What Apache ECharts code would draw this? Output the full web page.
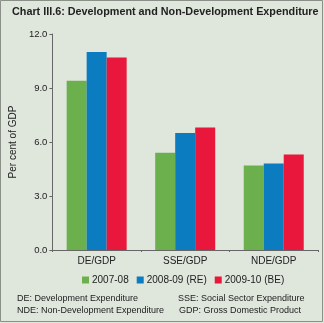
<!DOCTYPE html>
<html>
<head>
<meta charset="utf-8">
<script src="https://cdn.jsdelivr.net/npm/echarts@6/dist/echarts.min.js"></script>
<style>
  html, body { margin: 0; padding: 0; background: #dfe6dc; }
  #chart { width: 324px; height: 323px; }
</style>
</head>
<body>
<div id="chart"></div>
<script>
// Expenditure ratios, per cent of GDP
const categories = ['DE/GDP', 'SSE/GDP', 'NDE/GDP'];
const seriesNames = ['2007-08', '2008-09 (RE)', '2009-10 (BE)'];
const values0708 = [9.4, 5.4, 4.7];
const values0809 = [11.0, 6.5, 4.8];
const values0910 = [10.7, 6.8, 5.3];
const yTicks = [0, 3, 6, 9, 12];

const colors = ['#6cb04e', '#0a7cbf', '#e8173b'];
const seriesValues = [values0708, values0809, values0910];
const font = 'Liberation Sans, Arial, sans-serif';
const noteFont = '9px ' + font;

const chart = echarts.init(document.getElementById('chart'), null, { renderer: 'canvas' });
chart.setOption({
  animation: false,
  backgroundColor: '#dfe6dc',
  textStyle: { fontFamily: font },
  title: {
    text: 'Chart III.6: Development and Non-Development Expenditure',
    left: 7, top: 2,
    textStyle: { fontSize: 10.8, fontWeight: 'bold', color: '#222', fontFamily: font }
  },
  grid: { left: 48, right: 6, top: 34, bottom: 73 },
  legend: {
    data: seriesNames,
    left: 77,
    top: 270,
    itemWidth: 7, itemHeight: 7, itemGap: 8,
    icon: 'rect',
    textStyle: { fontSize: 10, color: '#222', padding: [0, 0, 0, -2] }
  },
  xAxis: {
    type: 'category',
    data: categories,
    axisLine: { lineStyle: { color: '#666', width: 1 } },
    axisTick: { show: true, length: 2, lineStyle: { color: '#666' } },
    axisLabel: { fontSize: 10, color: '#222', margin: 6 }
  },
  yAxis: {
    type: 'value',
    min: yTicks[0], max: yTicks[yTicks.length - 1], interval: 3,
    name: 'Per cent of GDP',
    nameLocation: 'middle',
    nameGap: 26,
    nameTextStyle: { fontSize: 10, color: '#222' },
    axisLine: { show: true, lineStyle: { color: '#666', width: 1 } },
    axisTick: { show: true, length: 3, lineStyle: { color: '#666' } },
    splitLine: { show: false },
    axisLabel: { fontSize: 9.5, color: '#222', margin: 5, formatter: v => v.toFixed(1) }
  },
  series: seriesNames.map((name, i) => ({
    name,
    type: 'bar',
    data: seriesValues[i],
    barWidth: 20,
    barGap: '0%',
    itemStyle: { color: colors[i] }
  })),
  graphic: [
    {
      type: 'rect', silent: true,
      shape: { x: 0.5, y: 0.5, width: 322, height: 321 },
      style: { fill: null, stroke: '#8a8f88', lineWidth: 1 }
    },
    {
      type: 'text', left: 17, top: 294,
      style: { text: 'DE: Development Expenditure', fill: '#222', font: noteFont }
    },
    {
      type: 'text', left: 178, top: 294,
      style: { text: 'SSE: Social Sector Expenditure', fill: '#222', font: noteFont }
    },
    {
      type: 'text', left: 17, top: 306,
      style: { text: 'NDE: Non-Development Expenditure', fill: '#222', font: noteFont }
    },
    {
      type: 'text', left: 179, top: 306,
      style: { text: 'GDP: Gross Domestic Product', fill: '#222', font: noteFont }
    }
  ]
});
</script>
</body>
</html>
